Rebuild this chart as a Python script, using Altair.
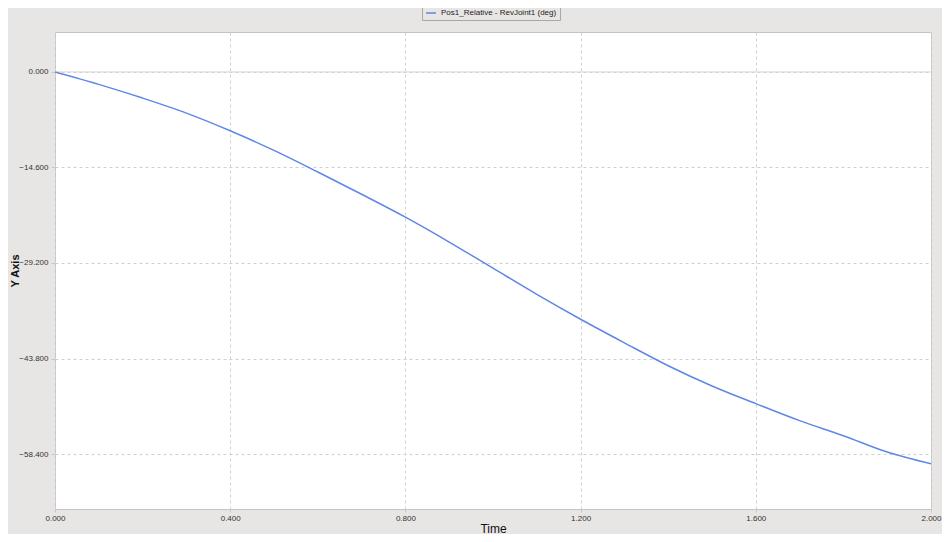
import altair as alt
import pandas as pd

# Data
time = [0.0, 0.1, 0.2, 0.3, 0.4, 0.5, 0.6, 0.7, 0.8, 0.9, 1.0,
        1.1, 1.2, 1.3, 1.4, 1.5, 1.6, 1.7, 1.8, 1.9, 2.0]
angle = [0.0, -1.9, -4.0, -6.3, -9.0, -12.0, -15.3, -18.7, -22.2, -26.0, -30.0,
         -34.0, -37.8, -41.4, -44.9, -48.0, -50.7, -53.3, -55.6, -58.1, -59.9]
series_name = "Pos1_Relative - RevJoint1 (deg)"
x_ticks = [0.0, 0.4, 0.8, 1.2, 1.6, 2.0]
y_ticks = [0.0, -14.6, -29.2, -43.8, -58.4]

df = pd.DataFrame({"Time": time, "Value": angle, "Series": [series_name] * len(time)})
zero_df = pd.DataFrame({"y": [0.0]})

FONT = "Liberation Sans"
W, H = 876, 477

x_scale = alt.Scale(domain=[0, 2.0], nice=False, zero=False)
y_scale = alt.Scale(domain=[-66.8, 6.1], nice=False, zero=False)

line = alt.Chart(df).mark_line(strokeWidth=1.5, clip=True, interpolate="monotone").encode(
    x=alt.X("Time:Q", scale=x_scale,
            axis=alt.Axis(values=x_ticks, format=".3f", title="Time",
                          labelFontSize=8, labelColor="#333333", labelFont=FONT,
                          labelFlush=False, labelBound=False,
                          titleFont=FONT, titleFontSize=12, titleFontWeight="normal",
                          titleColor="#111111", titleY=19, titleBaseline="middle",
                          grid=True, gridDash=[3, 3], gridColor="#d0d0d0",
                          domain=False, tickSize=3, tickColor="#c8c8c8",
                          labelPadding=2)),
    y=alt.Y("Value:Q", scale=y_scale,
            axis=alt.Axis(values=y_ticks, format=".3f", title="Y Axis",
                          labelFontSize=8, labelColor="#333333", labelFont=FONT,
                          titleFont=FONT, titleFontSize=11, titleFontWeight="bold",
                          titleColor="#111111", titleX=-40, titleY=H / 2,
                          titleBaseline="middle", titleAngle=270,
                          grid=True, gridDash=[3, 3], gridColor="#d0d0d0",
                          domain=False, tickSize=4, tickColor="#c8c8c8",
                          labelPadding=3)),
    color=alt.Color("Series:N",
                    scale=alt.Scale(domain=[series_name], range=["#5f87e6"]),
                    legend=alt.Legend(title=None, orient="none",
                                      legendX=367, legendY=-28,
                                      symbolType="stroke", symbolSize=100,
                                      symbolStrokeWidth=1.5,
                                      labelFont=FONT, labelFontSize=8,
                                      labelColor="#222222",
                                      strokeColor="#a8a8a8", fillColor="#e8e6e4",
                                      padding=3)),
)

zero_rule = alt.Chart(zero_df).mark_rule(color="#d8d8d8", strokeWidth=1).encode(
    y=alt.Y("y:Q", scale=y_scale)
)

chart = alt.layer(zero_rule, line).properties(
    width=W, height=H,
    background="#e8e6e4",
    padding={"left": 47, "top": 24, "right": 11, "bottom": 25},
    autosize=alt.AutoSizeParams(type="none"),
).configure_view(
    fill="white", stroke="#c4c4c4", strokeWidth=1
)

chart.save("out.html", embed_options={"renderer": "svg", "actions": False})
